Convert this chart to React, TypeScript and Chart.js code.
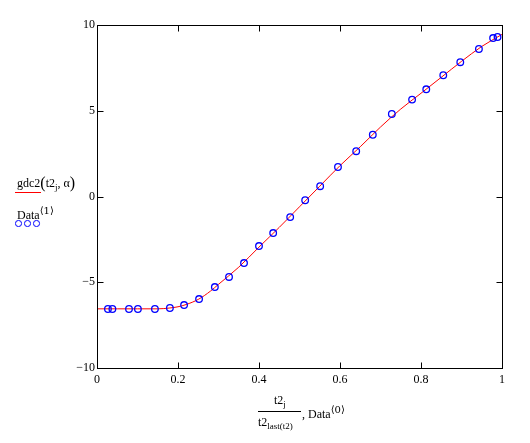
import React, { useEffect, useRef } from "react";
import { Chart, registerables } from "chart.js";

Chart.register(...registerables);

// Data trace (blue circles)
const dataX = [0.027, 0.038, 0.079, 0.101, 0.143, 0.18, 0.215, 0.252, 0.291, 0.326, 0.363, 0.4, 0.435, 0.477, 0.514, 0.551, 0.595, 0.64, 0.681, 0.728, 0.778, 0.813, 0.855, 0.897, 0.943, 0.978, 0.989];
const dataY = [-6.56, -6.56, -6.56, -6.56, -6.56, -6.5, -6.33, -5.98, -5.28, -4.69, -3.88, -2.89, -2.13, -1.2, -0.22, 0.6, 1.72, 2.64, 3.6, 4.81, 5.65, 6.25, 7.07, 7.83, 8.6, 9.24, 9.3];

// gdc2 curve (red line)
const curveX = [0, 0.05, 0.1, 0.15, 0.18, 0.2, 0.22, 0.25, 0.28, 0.3, 0.35, 0.4, 0.45, 0.5, 0.55, 0.6, 0.65, 0.7, 0.75, 0.8, 0.85, 0.9, 0.95, 1.0];
const curveY = [-6.55, -6.55, -6.55, -6.55, -6.5, -6.43, -6.3, -6.0, -5.52, -5.12, -4.12, -2.95, -1.8, -0.6, 0.6, 1.8, 2.9, 4.05, 5.1, 6.02, 6.95, 7.88, 8.75, 9.45];

const xTicks = [0, 0.2, 0.4, 0.6, 0.8, 1];
const yTicks = [-10, -5, 0, 5, 10];

const FONT = "'Liberation Serif', 'Times New Roman', serif";

const framePlugin = {
  id: "frame",
  afterDatasetsDraw(chart: any) {
    const { ctx, chartArea: a, scales } = chart;
    const L = Math.round(a.left) + 0.5;
    const R = Math.round(a.right) + 0.5;
    const T = Math.round(a.top) + 0.5;
    const B = Math.round(a.bottom) + 0.5;
    ctx.save();
    ctx.strokeStyle = "#000";
    ctx.lineWidth = 1;
    ctx.strokeRect(L, T, R - L, B - T);
    const len = 6;
    ctx.beginPath();
    xTicks.forEach((v) => {
      if (v === xTicks[0] || v === xTicks[xTicks.length - 1]) return;
      const x = Math.round(scales.x.getPixelForValue(v)) + 0.5;
      ctx.moveTo(x, B);
      ctx.lineTo(x, B - len);
      ctx.moveTo(x, T);
      ctx.lineTo(x, T + len);
    });
    yTicks.forEach((v) => {
      if (v === yTicks[0] || v === yTicks[yTicks.length - 1]) return;
      const y = Math.round(scales.y.getPixelForValue(v)) + 0.5;
      ctx.moveTo(L, y);
      ctx.lineTo(L + len, y);
      ctx.moveTo(R, y);
      ctx.lineTo(R - len, y);
    });
    ctx.stroke();
    ctx.restore();
  },
};

export default function App() {
  const ref = useRef<HTMLCanvasElement | null>(null);

  useEffect(() => {
    if (!ref.current) return;
    const chart = new Chart(ref.current, {
      type: "scatter",
      data: {
        datasets: [
          {
            label: "Data",
            data: dataX.map((x, i) => ({ x, y: dataY[i] })),
            showLine: false,
            pointRadius: 3.3,
            pointBorderWidth: 1.3,
            pointBorderColor: "#0000ff",
            pointBackgroundColor: "rgba(0,0,0,0)",
          },
          {
            label: "gdc2",
            data: curveX.map((x, i) => ({ x, y: curveY[i] })),
            showLine: true,
            borderColor: "#ff0000",
            borderWidth: 1,
            pointRadius: 0,
            cubicInterpolationMode: "monotone",
          },
        ],
      },
      options: {
        animation: false,
        responsive: false,
        devicePixelRatio: 1,
        clip: false as any,
        layout: { padding: { left: 0, top: 25, right: 28, bottom: 0 } },
        plugins: { legend: { display: false }, tooltip: { enabled: false } },
        scales: {
          x: {
            type: "linear",
            min: 0,
            max: 1,
            grid: { display: false, drawTicks: false },
            border: { display: false },
            afterFit: (s: any) => {
              s.height = 75;
            },
            afterBuildTicks: (s: any) => {
              s.ticks = xTicks.map((v) => ({ value: v }));
            },
            ticks: {
              padding: 5,
              maxRotation: 0,
              color: "#000",
              font: { family: FONT, size: 12 },
              callback: (v: any) => String(Math.round(Number(v) * 10) / 10),
            },
          },
          y: {
            type: "linear",
            min: -10,
            max: 10,
            grid: { display: false, drawTicks: false },
            border: { display: false },
            afterFit: (s: any) => {
              s.width = 97;
            },
            afterBuildTicks: (s: any) => {
              s.ticks = yTicks.map((v) => ({ value: v }));
            },
            ticks: {
              padding: 2,
              color: "#000",
              font: { family: FONT, size: 12 },
              callback: (v: any) => String(v).replace("-", "\u2212"),
            },
          },
        },
      },
      plugins: [framePlugin],
    });
    return () => chart.destroy();
  }, []);

  const base: React.CSSProperties = {
    position: "absolute",
    fontFamily: FONT,
    fontSize: 12,
    lineHeight: "12px",
    whiteSpace: "nowrap",
    color: "#000",
  };
  const sub = (t: string, size = 9, off = -3): any => (
    <span style={{ fontSize: size, verticalAlign: off }}>{t}</span>
  );
  const angle = (n: string) => (
    <span style={{ fontSize: 10, verticalAlign: 5, fontFamily: "'DejaVu Serif', serif" }}>
      {"\u27E8" + n + "\u27E9"}
    </span>
  );
  const circle = (cx: number, cy: number) => (
    <div
      key={cx}
      style={{
        position: "absolute",
        left: cx - 3.3,
        top: cy - 3.3,
        width: 6.6,
        height: 6.6,
        boxSizing: "border-box",
        border: "1.3px solid #0000ff",
        borderRadius: "50%",
      }}
    />
  );

  return (
    <div style={{ position: "absolute", left: 0, top: 0, width: 530, height: 443, background: "#fff" }}>
      <canvas ref={ref} width={530} height={443} style={{ position: "absolute", left: 0, top: 0 }} />
      {/* y-axis label */}
      <div style={{ ...base, left: 17, top: 177 }}>
        gdc2<span style={{ fontSize: 16, verticalAlign: -1 }}>(</span>t2{sub("j")}
        {", \u03B1"}
        <span style={{ fontSize: 16, verticalAlign: -1 }}>)</span>
      </div>
      <div style={{ position: "absolute", left: 15, top: 192, width: 26, height: 1, background: "#ff0000" }} />
      <div style={{ ...base, left: 17, top: 205 }}>
        Data{angle("1")}
      </div>
      {circle(18.5, 223.5)}
      {circle(27.5, 223.5)}
      {circle(36.5, 223.5)}
      {/* x-axis label */}
      <div style={{ ...base, left: 274, top: 394 }}>
        t2{sub("j")}
      </div>
      <div style={{ position: "absolute", left: 258, top: 411, width: 43, height: 1, background: "#000" }} />
      <div style={{ ...base, left: 258, top: 416 }}>
        t2{sub("last(t2)", 9, -3)}
      </div>
      <div style={{ ...base, left: 302, top: 404 }}>
        , Data{angle("0")}
      </div>
    </div>
  );
}
